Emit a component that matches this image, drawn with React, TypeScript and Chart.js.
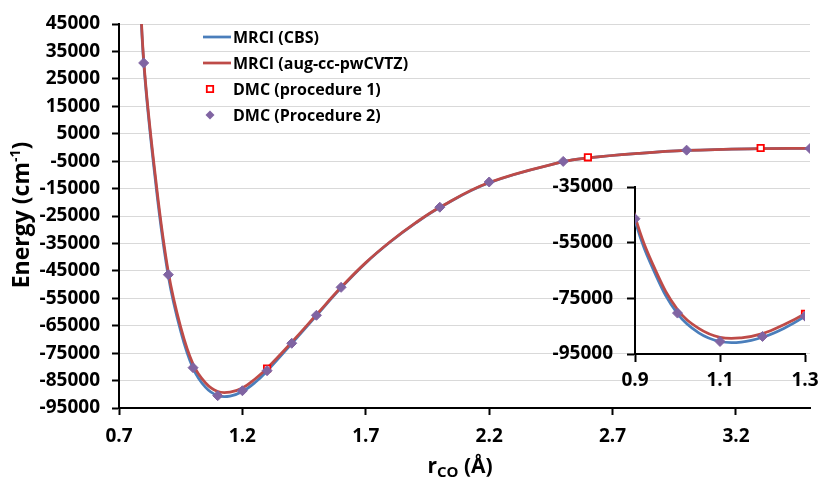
import React, { useEffect, useRef } from "react";
import { Chart, registerables } from "chart.js";
Chart.register(...registerables);

// ---- data ----
const curveR = [0.78, 0.8, 0.85, 0.9, 0.95, 1.0, 1.05, 1.1, 1.15, 1.2, 1.25, 1.3, 1.4, 1.5, 1.6, 1.7, 1.8, 1.9, 2.0, 2.2, 2.5, 2.6, 2.8, 3.0, 3.3, 3.5];
const mrciCBS = [70000, 31000, -14000, -47000, -67000, -80500, -87400, -90500, -90700, -89000, -85800, -81500, -71500, -61300, -51200, -42100, -34400, -27700, -21900, -12900, -5200, -3800, -2200, -1100, -450, -350];
const mrciAug = [72000, 32000, -12500, -45500, -65500, -79000, -85800, -89000, -89200, -87700, -84500, -80500, -71000, -61000, -51000, -42000, -34300, -27600, -21800, -12800, -5200, -3800, -2200, -1100, -450, -350];

const dmc1R = [1.3, 2.6, 3.3];
const dmc1E = [-80600, -3600, -200];

const dmc2R = [0.8, 0.9, 1.0, 1.1, 1.2, 1.3, 1.4, 1.5, 1.6, 2.0, 2.2, 2.5, 3.0, 3.5];
const dmc2E = [30800, -46400, -80300, -90500, -88700, -81400, -71400, -61200, -51000, -21800, -12600, -5100, -1000, -400];

const seriesLabels = ["MRCI (CBS)", "MRCI (aug-cc-pwCVTZ)", "DMC (procedure 1)", "DMC (Procedure 2)"];

const mainXTicks = [0.7, 1.2, 1.7, 2.2, 2.7, 3.2];
const mainYTicks = [45000, 35000, 25000, 15000, 5000, -5000, -15000, -25000, -35000, -45000, -55000, -65000, -75000, -85000, -95000];
const insetXTicks = [0.9, 1.1, 1.3];
const insetYTicks = [-35000, -55000, -75000, -95000];

// ---- styles ----
const FONT = "'Open Sans', sans-serif";
const BLUE = "#4A7EBB";
const RED = "#BE4B48";
const PURPLE = "#8064A2";
const SQUARE_RED = "#FF0000";

const pts = (xs: number[], ys: number[]) => xs.map((x, i) => ({ x, y: ys[i] }));

function makeDatasets(): any[] {
  return [
    {
      label: seriesLabels[0],
      data: pts(curveR, mrciCBS),
      borderColor: BLUE,
      backgroundColor: BLUE,
      borderWidth: 2.75,
      pointRadius: 0,
      tension: 0.4,
      fill: false,
      order: 4,
    },
    {
      label: seriesLabels[1],
      data: pts(curveR, mrciAug),
      borderColor: RED,
      backgroundColor: RED,
      borderWidth: 2.75,
      pointRadius: 0,
      tension: 0.4,
      fill: false,
      order: 3,
    },
    {
      label: seriesLabels[2],
      data: pts(dmc1R, dmc1E),
      showLine: false,
      pointStyle: "rect",
      pointRadius: 4.5,
      pointBorderWidth: 1.8,
      borderColor: SQUARE_RED,
      backgroundColor: "#ffffff",
      order: 2,
    },
    {
      label: seriesLabels[3],
      data: pts(dmc2R, dmc2E),
      showLine: false,
      pointStyle: "rectRot",
      pointRadius: 5,
      pointBorderWidth: 1,
      borderColor: PURPLE,
      backgroundColor: PURPLE,
      order: 1,
    },
  ];
}

const tickFont = { family: FONT, size: 19, weight: "bold" as const };

const legendPlugin = {
  id: "insideLegend",
  afterDraw(chart: any) {
    const ctx = chart.ctx as CanvasRenderingContext2D;
    const ds = chart.data.datasets;
    const rowY = [37, 63, 89, 115];
    const lineX0 = 203, lineX1 = 231, markX = 210, textX = 233;
    ctx.save();
    ctx.font = `bold 16px ${FONT}`;
    ctx.fillStyle = "#000";
    ctx.textAlign = "left";
    ctx.textBaseline = "middle";
    ds.forEach((d: any, i: number) => {
      const y = rowY[i];
      if (d.showLine === false) {
        ctx.save();
        ctx.beginPath();
        const r = d.pointStyle === "rect" ? 3.2 : 4.5;
        if (d.pointStyle === "rect") {
          ctx.rect(markX - r, y - r, 2 * r, 2 * r);
          ctx.fillStyle = d.backgroundColor;
          ctx.fill();
          ctx.lineWidth = d.pointBorderWidth;
          ctx.strokeStyle = d.borderColor;
          ctx.stroke();
        } else {
          ctx.moveTo(markX - r, y);
          ctx.lineTo(markX, y - r);
          ctx.lineTo(markX + r, y);
          ctx.lineTo(markX, y + r);
          ctx.closePath();
          ctx.fillStyle = d.backgroundColor;
          ctx.fill();
        }
        ctx.restore();
      } else {
        ctx.save();
        ctx.beginPath();
        ctx.moveTo(lineX0, y);
        ctx.lineTo(lineX1, y);
        ctx.lineWidth = d.borderWidth;
        ctx.strokeStyle = d.borderColor;
        ctx.stroke();
        ctx.restore();
      }
      ctx.fillStyle = "#000";
      ctx.fillText(d.label, textX, y + 1);
    });
    ctx.restore();
  },
};

type Part = { t: string; size: number; dy: number };
function drawParts(ctx: CanvasRenderingContext2D, parts: Part[], cx: number, baseY: number) {
  let total = 0;
  parts.forEach((p) => {
    ctx.font = `bold ${p.size}px ${FONT}`;
    total += ctx.measureText(p.t).width;
  });
  let x = cx - total / 2;
  ctx.textAlign = "left";
  ctx.textBaseline = "alphabetic";
  parts.forEach((p) => {
    ctx.font = `bold ${p.size}px ${FONT}`;
    ctx.fillText(p.t, x, baseY + p.dy);
    x += ctx.measureText(p.t).width;
  });
}

const titlesPlugin = {
  id: "axisTitles",
  afterDraw(chart: any) {
    const ctx = chart.ctx as CanvasRenderingContext2D;
    ctx.save();
    ctx.fillStyle = "#000";
    drawParts(
      ctx,
      [
        { t: "r", size: 21, dy: 0 },
        { t: "CO", size: 15, dy: 4 },
        { t: " (Å)", size: 21, dy: 0 },
      ],
      460,
      473
    );
    ctx.translate(29, 215);
    ctx.rotate(-Math.PI / 2);
    drawParts(
      ctx,
      [
        { t: "Energy (cm", size: 23, dy: 0 },
        { t: "-1", size: 14, dy: -9 },
        { t: ")", size: 23, dy: 0 },
      ],
      0,
      0
    );
    ctx.restore();
  },
};

const noPadX = (h: number) => (s: any) => {
  s.height = h;
  s.paddingLeft = 0;
  s.paddingRight = 0;
};
const noPadY = (w: number) => (s: any) => {
  s.width = w;
  s.paddingTop = 0;
  s.paddingBottom = 0;
};

export default function App() {
  const mainRef = useRef<HTMLCanvasElement>(null);
  const insetRef = useRef<HTMLCanvasElement>(null);

  useEffect(() => {
    document.body.style.margin = "0";
    const main = new Chart(mainRef.current!, {
      type: "line",
      data: { datasets: makeDatasets() },
      options: {
        animation: false,
        responsive: false,
        devicePixelRatio: 1,
        layout: { padding: { top: 24, right: 9, left: 0, bottom: 0 } },
        plugins: { legend: { display: false }, tooltip: { enabled: false } },
        scales: {
          x: {
            type: "linear",
            min: 0.7,
            max: 3.5,
            afterBuildTicks: (s: any) => {
              s.ticks = mainXTicks.map((v) => ({ value: v }));
            },
            afterFit: noPadX(75),
            grid: { drawOnChartArea: false, drawTicks: true, tickLength: 7, tickColor: "#000", tickWidth: 2 },
            border: { color: "#000", width: 2 },
            ticks: {
              font: tickFont,
              color: "#000",
              padding: 10,
              maxRotation: 0,
              autoSkip: false,
              callback: (v: any) => Number(v).toFixed(1),
            },
          },
          y: {
            type: "linear",
            min: -95000,
            max: 45000,
            afterBuildTicks: (s: any) => {
              s.ticks = mainYTicks.map((v) => ({ value: v }));
            },
            afterFit: noPadY(119),
            grid: { color: "#D9D9D9", lineWidth: 1, drawTicks: true, tickLength: 7, tickColor: "#000", tickWidth: 2 },
            border: { color: "#000", width: 2 },
            ticks: {
              font: tickFont,
              color: "#000",
              padding: 12,
              autoSkip: false,
              callback: (v: any) => String(v),
            },
          },
        },
      },
      plugins: [legendPlugin, titlesPlugin],
    } as any);

    const inset = new Chart(insetRef.current!, {
      type: "line",
      data: { datasets: makeDatasets() },
      options: {
        animation: false,
        responsive: false,
        devicePixelRatio: 1,
        layout: { padding: { top: 17, right: 14, left: 0, bottom: 0 } },
        plugins: { legend: { display: false }, tooltip: { enabled: false } },
        scales: {
          x: {
            type: "linear",
            min: 0.9,
            max: 1.3,
            afterBuildTicks: (s: any) => {
              s.ticks = insetXTicks.map((v) => ({ value: v }));
            },
            afterFit: noPadX(46),
            grid: { drawOnChartArea: false, drawTicks: true, tickLength: 8, tickColor: "#000", tickWidth: 2 },
            border: { color: "#000", width: 2 },
            ticks: {
              font: tickFont,
              color: "#000",
              padding: 7,
              maxRotation: 0,
              autoSkip: false,
              callback: (v: any) => Number(v).toFixed(1),
            },
          },
          y: {
            type: "linear",
            min: -95000,
            max: -35000,
            afterBuildTicks: (s: any) => {
              s.ticks = insetYTicks.map((v) => ({ value: v }));
            },
            afterFit: noPadY(95),
            grid: { drawOnChartArea: false, drawTicks: true, tickLength: 8, tickColor: "#000", tickWidth: 2 },
            border: { color: "#000", width: 2 },
            ticks: {
              font: tickFont,
              color: "#000",
              padding: 14,
              autoSkip: false,
              callback: (v: any) => String(v),
            },
          },
        },
      },
    } as any);

    return () => {
      main.destroy();
      inset.destroy();
    };
  }, []);

  return (
    <div style={{ position: "relative", width: 819, height: 483, background: "#fff", overflow: "hidden" }}>
      <canvas
        ref={mainRef}
        width={819}
        height={483}
        style={{ position: "absolute", left: 0, top: 0, width: 819, height: 483 }}
      />
      <canvas
        ref={insetRef}
        width={279}
        height={230}
        style={{ position: "absolute", left: 540, top: 170, width: 279, height: 230 }}
      />
    </div>
  );
}
